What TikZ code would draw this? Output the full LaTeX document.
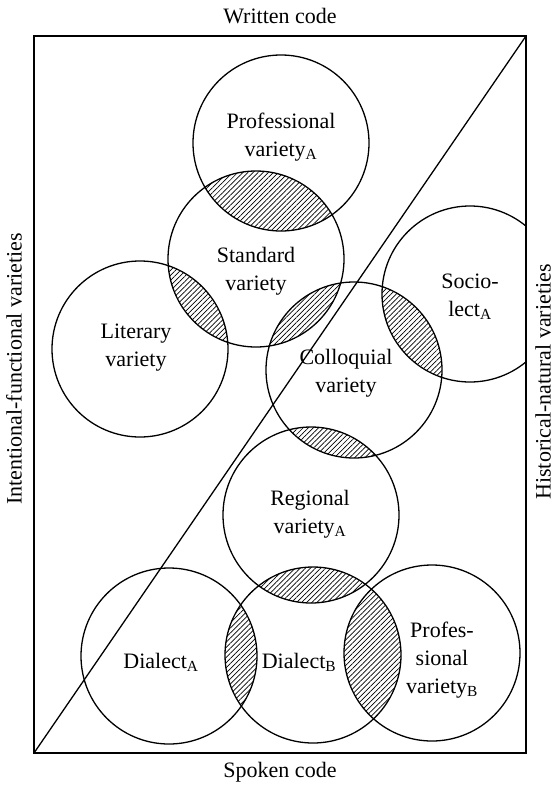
\documentclass[tikz,border=0pt]{standalone}
\usepackage{fontspec}
\setmainfont{Liberation Serif}
\usetikzlibrary{patterns.meta}

\tikzset{
  variety/.style={circle, draw, line width=1.3pt, minimum size=176pt, inner sep=0pt},
  label/.style={align=center, inner sep=0pt, font=\fontsize{22}{28}\selectfont},
  hatch/.style={pattern={Lines[angle=45, distance=3.6pt, line width=0.7pt]}},
  frame/.style={line width=1.6pt},
}

\begin{document}
\begin{tikzpicture}[x=1pt, y=-1pt]
\useasboundingbox (0,0) rectangle (554,787);

% frame corners
\coordinate (sw) at (34,753);
\coordinate (ne) at (526,36);

% circle centres
\coordinate (cProfA) at (281,143);
\coordinate (cStd)   at (256,259);
\coordinate (cLit)   at (140,349);
\coordinate (cColl)  at (354,370);
\coordinate (cSoc)   at (470,294);
\coordinate (cReg)   at (311,515);
\coordinate (cDiaA)  at (169,656);
\coordinate (cDiaB)  at (313,655);
\coordinate (cProfB) at (432,653);

% hatched overlaps
\def\R{88pt}
\foreach \a/\b in {cProfA/cStd, cStd/cLit, cStd/cColl, cColl/cSoc, cColl/cReg,
                   cReg/cDiaB, cDiaA/cDiaB, cDiaB/cProfB} {
  \begin{scope}
    \clip (\a) circle[radius=\R];
    \fill[hatch] (\b) circle[radius=\R];
  \end{scope}
}

% varieties
\node[variety] (profA) at (cProfA) {};
\node[variety] (std)   at (cStd)   {};
\node[variety] (lit)   at (cLit)   {};
\node[variety] (coll)  at (cColl)  {};
\begin{scope}
  \clip (sw) rectangle (ne);
  \node[variety] (soc) at (cSoc) {};
\end{scope}
\node[variety] (reg)   at (cReg)   {};
\node[variety] (diaA)  at (cDiaA)  {};
\node[variety] (diaB)  at (cDiaB)  {};
\node[variety] (profB) at (cProfB) {};

% frame and diagonal
\draw[frame] (sw) rectangle (ne);
\draw[line width=1.3pt] (sw) -- (ne);

% names of the varieties
\node[label] (tProfA) at (281,137) {Professional\\variety\textsubscript{A}};
\node[label] (tStd)   at (256,271) {Standard\\variety};
\node[label] (tLit)   at (136,348) {Literary\\variety};
\node[label] (tColl)  at (346,373) {Colloquial\\variety};
\node[label] (tSoc)   at (470,297) {Socio-\\lect\textsubscript{A}};
\node[label] (tReg)   at (310,514) {Regional\\variety\textsubscript{A}};
\node[label] (tDiaA)  at (161,662) {Dialect\textsubscript{A}};
\node[label] (tDiaB)  at (299,662) {Dialect\textsubscript{B}};
\node[label] (tProfB) at (442,660) {Profes-\\sional\\variety\textsubscript{B}};

% axis labels
\node[label] (written) at (280,16)  {Written code};
\node[label] (spoken)  at (280,772) {Spoken code};
\node[label, rotate=90] (intent) at (14,369)  {Intentional-functional varieties};
\node[label, rotate=90] (hist)   at (543,382) {Historical-natural varieties};
\end{tikzpicture}
\end{document}
